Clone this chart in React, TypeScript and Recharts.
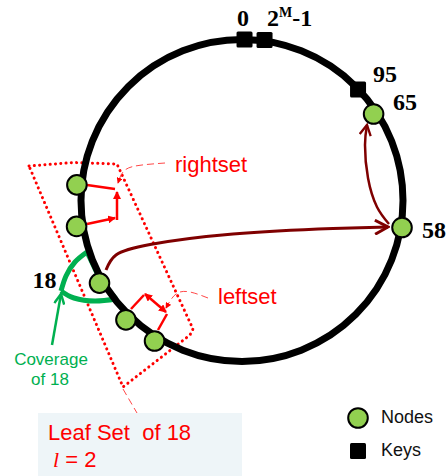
import React from "react";
import {
  ComposedChart,
  Scatter,
  Line,
  XAxis,
  YAxis,
  ReferenceDot,
  ReferenceArea,
  Legend,
} from "recharts";

// positions on the ring: degrees clockwise from the top, radius as a share of the ring
const nodeLabels = ["", "", "18", "", "", "58", "65"];
const nodeAngles = [275.4, 261.1, 239.9, 224.2, 211.9, 99.6, 56.7];
const nodeRadii = [1.03, 1.04, 1.023, 1.034, 1.028, 1.008, 0.978];

const keyLabels = ["0", "2^M-1", "95"];
const keyAngles = [0.9, 8.0, 46.3];
const keyRadii = [1.0, 1.006, 0.997];

const legendItems = ["Nodes", "Keys"];

const W = 447;
const H = 476;
const R = 161; // ring radius in px
const CX = 242;
const CY = 200.5;

const RED = "#FF0000";
const MAROON = "#7F0000";
const GREEN = "#00B050";
const NODE_FILL = "#92D050";

const toRing = (angle: number, r: number, label: string) => {
  const a = (angle * Math.PI) / 180;
  return { x: r * Math.sin(a), y: r * Math.cos(a), label };
};

const nodes = nodeAngles.map((a, i) => toRing(a, nodeRadii[i], nodeLabels[i]));
const keys = keyAngles.map((a, i) => toRing(a, keyRadii[i], keyLabels[i]));

// label placement relative to the mark
const labelPos: Record<string, { dx: number; dy: number; anchor: string }> = {
  "18": { dx: -43, dy: 5, anchor: "end" },
  "58": { dx: 20, dy: 10.5, anchor: "start" },
  "65": { dx: 19.5, dy: -4, anchor: "start" },
  "0": { dx: -1.5, dy: -14, anchor: "middle" },
  "2^M-1": { dx: 2.5, dy: -14, anchor: "start" },
  "95": { dx: 15, dy: -7.5, anchor: "start" },
};

const pts = (arr: number[][]) => arr.map(([x, y]) => ({ x, y }));

// annotation strokes, in page pixels
const guides = [
  { id: "box", type: "linear", color: RED, w: 3, dash: "0.1 5.2", cap: "round",
    p: pts([[29, 166], [73, 162.5], [117, 164], [193, 329], [190, 335], [123, 387], [29, 166]]) },
  { id: "rLead", type: "natural", color: "#FF4848", w: 1, dash: "7 4", end: "mRedS",
    p: pts([[165, 163], [142, 165], [125, 170], [118, 183]]) },
  { id: "lLead", type: "natural", color: "#FF4848", w: 1, dash: "7 4", end: "mRedS",
    p: pts([[208, 298], [190, 292], [176, 294], [166, 308]]) },
  { id: "leafLead", type: "linear", color: "#FF4848", w: 1, dash: "7 4",
    p: pts([[123, 389], [137, 413]]) },
  { id: "rb1", type: "linear", color: RED, w: 2.5, p: pts([[87, 185], [115, 189]]) },
  { id: "rb2", type: "linear", color: RED, w: 2.5, end: "mRed", p: pts([[117, 220], [117, 192]]) },
  { id: "rb3", type: "linear", color: RED, w: 2.5, end: "mRed", p: pts([[87, 224], [115, 218]]) },
  { id: "lb1", type: "linear", color: RED, w: 2.5, p: pts([[131, 309], [144, 295]]) },
  { id: "lb2", type: "linear", color: RED, w: 2.5, start: "mRed", end: "mRed", p: pts([[145, 294], [166, 312]]) },
  { id: "lb3", type: "linear", color: RED, w: 2.5, p: pts([[158, 330], [167, 314]]) },
  { id: "hopLong", type: "natural", color: MAROON, w: 3, end: "mMaroon",
    p: pts([[106, 270], [116, 255], [150, 244.5], [233, 234], [333, 228.5], [388, 227]]) },
  { id: "hopShort", type: "natural", color: MAROON, w: 2.5, end: "mMaroonS",
    p: pts([[389, 224], [377, 207], [368, 178], [365, 145], [367, 125]]) },
  { id: "g1", type: "linear", color: GREEN, w: 5, p: pts([[97, 273], [87, 252]]) },
  { id: "g2", type: "natural", color: GREEN, w: 5, p: pts([[87, 252], [75, 262], [66, 276], [61, 291]]) },
  { id: "g3", type: "natural", color: GREEN, w: 5, p: pts([[61, 291], [74, 298], [95, 301], [116, 299]]) },
  { id: "g4", type: "linear", color: GREEN, w: 5, p: pts([[116, 299], [108, 290]]) },
  { id: "gArrow", type: "linear", color: GREEN, w: 2.5, end: "mGreen", p: pts([[52, 345], [61, 294]]) },
];

const notes = [
  { x: 175, y: 172, text: "rightset", color: RED, size: 22, anchor: "start" },
  { x: 218, y: 304, text: "leftset", color: RED, size: 22, anchor: "start" },
  { x: 51, y: 365, text: "Coverage", color: GREEN, size: 17, anchor: "middle" },
  { x: 50, y: 385, text: "of 18", color: GREEN, size: 17, anchor: "middle" },
  { x: 48, y: 440, text: "Leaf Set  of 18", color: RED, size: 22, anchor: "start" },
  { x: 53, y: 467, text: "l = 2", color: RED, size: 22, anchor: "start" },
];

const numFont = "'Liberation Serif', 'Times New Roman', serif";
const sansFont = "'Liberation Sans', Arial, sans-serif";

const MarkLabel = ({ cx, cy, label }: { cx: number; cy: number; label: string }) => {
  const pos = labelPos[label];
  if (!pos) return null;
  const common = {
    x: cx + pos.dx,
    y: cy + pos.dy,
    textAnchor: pos.anchor as any,
    fontFamily: numFont,
    fontWeight: 700,
    fontSize: 24,
    fill: "#000",
  };
  if (label === "2^M-1") {
    return (
      <text {...common}>
        2
        <tspan fontSize={14} dy={-9}>M</tspan>
        <tspan dy={9}>-1</tspan>
      </text>
    );
  }
  return <text {...common}>{label}</text>;
};

const NodeShape = (p: any) => (
  <g>
    <circle cx={p.cx} cy={p.cy} r={9.8} fill={NODE_FILL} stroke="#000" strokeWidth={2} />
    <MarkLabel cx={p.cx} cy={p.cy} label={p.payload.label} />
  </g>
);

const KeyShape = (p: any) => (
  <g>
    <rect x={p.cx - 8} y={p.cy - 8} width={16} height={16} rx={1.5} fill="#000" />
    <MarkLabel cx={p.cx} cy={p.cy} label={p.payload.label} />
  </g>
);

const NoteShape = (p: any) => {
  const n = p.payload;
  if (n.text === "l = 2") {
    return (
      <text x={p.cx} y={p.cy} fill={n.color} fontSize={n.size} fontFamily={sansFont}>
        <tspan fontFamily={numFont} fontStyle="italic">l</tspan>
        <tspan style={{ whiteSpace: "pre" }}>{" = 2"}</tspan>
      </text>
    );
  }
  return (
    <text
      x={p.cx}
      y={p.cy}
      fill={n.color}
      fontSize={n.size}
      fontFamily={sansFont}
      textAnchor={n.anchor}
      style={{ whiteSpace: "pre" }}
    >
      {n.text}
    </text>
  );
};

const LegendBox = () => (
  <div style={{ fontFamily: sansFont, fontSize: 18, color: "#111" }}>
    {legendItems.map((name) => (
      <div key={name} style={{ display: "flex", alignItems: "center", height: 33 }}>
        <svg width={26} height={26} style={{ marginRight: 10 }}>
          {name === "Nodes" ? (
            <circle cx={13} cy={13} r={9.8} fill={NODE_FILL} stroke="#000" strokeWidth={2} />
          ) : (
            <rect x={5} y={5} width={16} height={16} rx={1.5} fill="#000" />
          )}
        </svg>
        <span>{name}</span>
      </div>
    ))}
  </div>
);

const App = () => {
  return (
    <div style={{ position: "absolute", left: 0, top: 0, width: W, height: H, background: "#fff" }}>
      <ComposedChart width={W} height={H} margin={{ top: 0, right: 0, bottom: 0, left: 0 }}>
        <defs>
          <marker id="mMaroon" viewBox="0 0 16 16" refX={14} refY={8} markerWidth={16} markerHeight={16}
            markerUnits="userSpaceOnUse" orient="auto">
            <path d="M1,1 L14,8 L1,15" fill="none" stroke={MAROON} strokeWidth={3} />
          </marker>
          <marker id="mMaroonS" viewBox="0 0 14 14" refX={12} refY={7} markerWidth={13} markerHeight={13}
            markerUnits="userSpaceOnUse" orient="auto">
            <path d="M1,1 L12,7 L1,13" fill="none" stroke={MAROON} strokeWidth={2.5} />
          </marker>
          <marker id="mRed" viewBox="0 0 8 8" refX={7} refY={4} markerWidth={8} markerHeight={8}
            markerUnits="userSpaceOnUse" orient="auto-start-reverse">
            <path d="M0,0 L8,4 L0,8 z" fill={RED} />
          </marker>
          <marker id="mRedS" viewBox="0 0 8 8" refX={7} refY={4} markerWidth={6} markerHeight={6}
            markerUnits="userSpaceOnUse" orient="auto">
            <path d="M0,0 L8,4 L0,8 z" fill={RED} />
          </marker>
          <marker id="mGreen" viewBox="0 0 12 12" refX={11} refY={6} markerWidth={12} markerHeight={12}
            markerUnits="userSpaceOnUse" orient="auto">
            <path d="M1,1 L11,6 L1,11" fill="none" stroke={GREEN} strokeWidth={2.5} />
          </marker>
        </defs>

        <XAxis xAxisId="ring" type="number" dataKey="x" domain={[-CX / R, (W - CX) / R]} hide allowDataOverflow />
        <YAxis yAxisId="ring" type="number" dataKey="y" domain={[-(H - CY) / R, CY / R]} hide allowDataOverflow />
        <XAxis xAxisId="px" type="number" dataKey="x" domain={[0, W]} hide allowDataOverflow />
        <YAxis yAxisId="px" type="number" dataKey="y" domain={[0, H]} reversed hide allowDataOverflow />

        <ReferenceArea xAxisId="px" yAxisId="px" x1={38} x2={242} y1={413} y2={476}
          fill="#EEF5F8" fillOpacity={1} stroke="none" ifOverflow="visible" />

        <ReferenceDot xAxisId="ring" yAxisId="ring" x={0} y={0} r={R}
          fill="none" stroke="#000" strokeWidth={7} />

        {guides.map((g) => (
          <Line
            key={g.id}
            xAxisId="px"
            yAxisId="px"
            data={g.p}
            dataKey="y"
            type={g.type as any}
            stroke={g.color}
            strokeWidth={g.w}
            strokeDasharray={g.dash}
            strokeLinecap={(g.cap as any) || "butt"}
            markerEnd={g.end ? `url(#${g.end})` : undefined}
            markerStart={g.start ? `url(#${g.start})` : undefined}
            dot={false}
            activeDot={false}
            legendType="none"
            isAnimationActive={false}
          />
        ))}

        <Scatter name="Keys" xAxisId="ring" yAxisId="ring" data={keys} shape={KeyShape} isAnimationActive={false} />
        <Scatter name="Nodes" xAxisId="ring" yAxisId="ring" data={nodes} shape={NodeShape} isAnimationActive={false} />
        <Scatter name="notes" xAxisId="px" yAxisId="px" data={notes} shape={NoteShape}
          legendType="none" isAnimationActive={false} />

        <Legend
          layout="horizontal"
          align="center"
          verticalAlign="middle"
          content={LegendBox}
          wrapperStyle={{ left: 345, top: 401, width: 102 }}
        />
      </ComposedChart>
    </div>
  );
};

export default App;
